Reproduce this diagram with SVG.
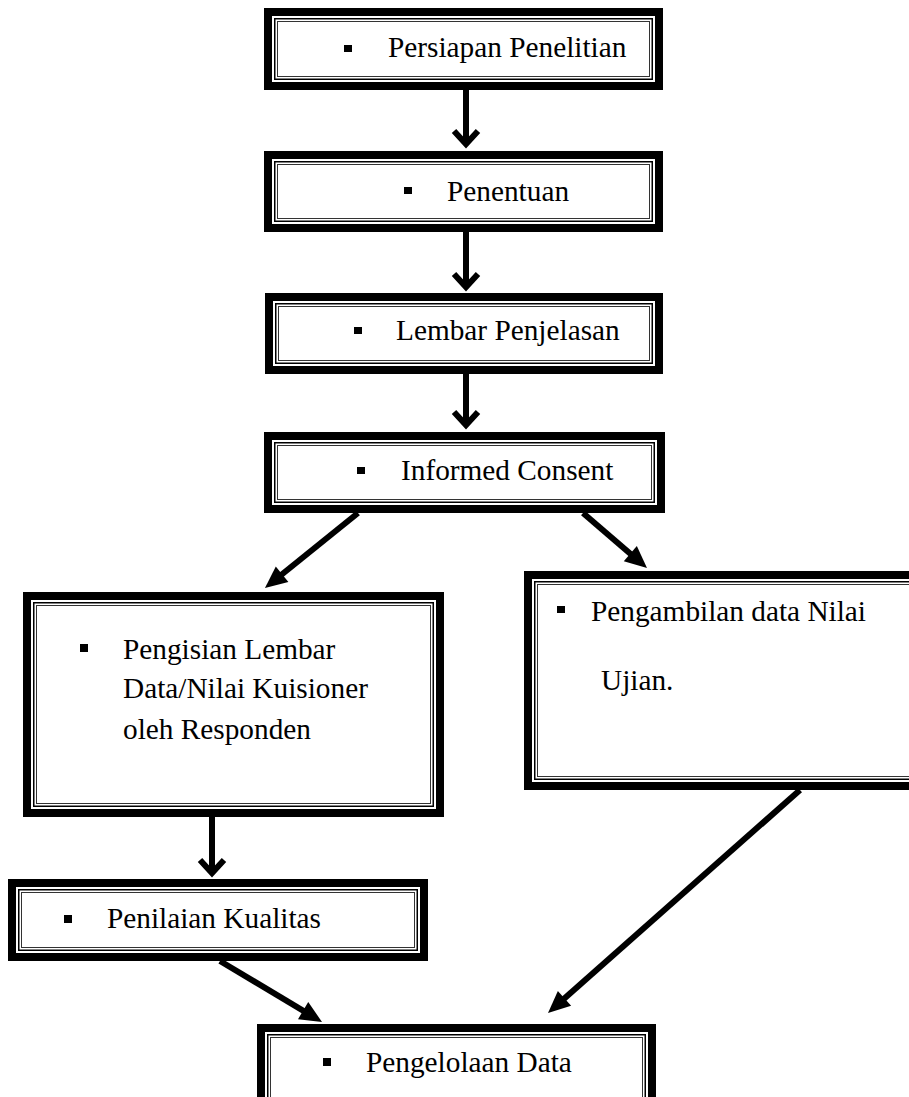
<svg xmlns="http://www.w3.org/2000/svg" width="909" height="1097" viewBox="0 0 909 1097">
  <style>
    .thick { fill: #fff; stroke: #000; stroke-width: 8; }
    .thin1 { fill: none; stroke: #000; stroke-width: 1.5; }
    .thin2 { fill: none; stroke: #333; stroke-width: 1; }
    .lbl { font-family: "Liberation Serif", "Times New Roman", serif; font-size: 29.3px; fill: #000; }
    .bul { fill: #000; }
    .conn { stroke: #000; stroke-width: 6; fill: none; }
  </style>
  <defs>
    <marker id="chev" markerUnits="userSpaceOnUse" viewBox="-20 -16 26 32" refX="0" refY="0" markerWidth="26" markerHeight="32" orient="auto" overflow="visible">
      <path d="M-13,-12 L0,0 L-13,12" fill="none" stroke="#000" stroke-width="6" stroke-linejoin="miter" stroke-miterlimit="10"/>
    </marker>
    <marker id="tri" markerUnits="userSpaceOnUse" viewBox="0 -12 24 24" refX="10" refY="0" markerWidth="24" markerHeight="24" orient="auto" overflow="visible">
      <path d="M0,-10 L22,0 L0,10 Z" fill="#000"/>
    </marker>
  </defs>

  <!-- connectors -->
  <g id="connectors">
    <line class="conn" x1="466" y1="88" x2="466" y2="144" marker-end="url(#chev)"/>
    <line class="conn" x1="466" y1="232" x2="466" y2="287" marker-end="url(#chev)"/>
    <line class="conn" x1="466" y1="374" x2="466" y2="425" marker-end="url(#chev)"/>
    <line class="conn" x1="358" y1="513" x2="274.3" y2="580.5" marker-end="url(#tri)"/>
    <line class="conn" x1="583" y1="513" x2="637.9" y2="560.2" marker-end="url(#tri)"/>
    <line class="conn" x1="212" y1="817" x2="212" y2="873" marker-end="url(#chev)"/>
    <line class="conn" x1="220" y1="961" x2="311.7" y2="1015.8" marker-end="url(#tri)"/>
    <line class="conn" x1="800" y1="790" x2="557" y2="1005" marker-end="url(#tri)"/>
  </g>

  <!-- Persiapan Penelitian -->
  <g id="persiapan">
    <rect class="thick" x="268" y="12" width="391" height="74"/>
    <rect class="thin1" x="274.75" y="18.75" width="377.5" height="60.5"/>
    <rect class="thin2" x="277.5" y="21.5" width="372" height="55"/>
    <rect class="bul" x="344" y="45" width="8" height="7"/>
    <text class="lbl" x="388" y="57">Persiapan Penelitian</text>
  </g>

  <!-- Penentuan -->
  <g id="penentuan">
    <rect class="thick" x="268" y="155" width="391" height="73"/>
    <rect class="thin1" x="274.75" y="161.75" width="377.5" height="59.5"/>
    <rect class="thin2" x="277.5" y="164.5" width="372" height="54"/>
    <rect class="bul" x="404" y="187" width="8" height="7"/>
    <text class="lbl" x="447" y="200.5">Penentuan</text>
  </g>

  <!-- Lembar Penjelasan -->
  <g id="lembar">
    <rect class="thick" x="269" y="297" width="390" height="73"/>
    <rect class="thin1" x="275.75" y="303.75" width="376.5" height="59.5"/>
    <rect class="thin2" x="278.5" y="306.5" width="371" height="54"/>
    <rect class="bul" x="354" y="327" width="8" height="7"/>
    <text class="lbl" x="396" y="340">Lembar Penjelasan</text>
  </g>

  <!-- Informed Consent -->
  <g id="informed">
    <rect class="thick" x="268" y="436" width="393" height="73"/>
    <rect class="thin1" x="274.75" y="442.75" width="379.5" height="59.5"/>
    <rect class="thin2" x="277.5" y="445.5" width="374" height="54"/>
    <rect class="bul" x="357" y="467" width="8" height="7"/>
    <text class="lbl" x="401" y="480">Informed Consent</text>
  </g>

  <!-- Pengisian Lembar Data/Nilai Kuisioner -->
  <g id="pengisian">
    <rect class="thick" x="27" y="596" width="413" height="217"/>
    <rect class="thin1" x="33.75" y="602.75" width="399.5" height="203.5"/>
    <rect class="thin2" x="36.5" y="605.5" width="394" height="198"/>
    <rect class="bul" x="80" y="644" width="8" height="8"/>
    <text class="lbl" x="123" y="659">Pengisian Lembar</text>
    <text class="lbl" x="123" y="698">Data/Nilai Kuisioner</text>
    <text class="lbl" x="123" y="739">oleh Responden</text>
  </g>

  <!-- Pengambilan data Nilai Ujian -->
  <g id="pengambilan">
    <rect class="thick" x="528" y="575" width="395" height="211"/>
    <rect class="thin1" x="534.75" y="581.75" width="381.5" height="197.5"/>
    <rect class="thin2" x="537.5" y="584.5" width="376" height="192"/>
    <rect class="bul" x="557" y="606" width="8" height="7"/>
    <text class="lbl" x="591" y="621">Pengambilan data Nilai</text>
    <text class="lbl" x="601" y="690">Ujian.</text>
  </g>

  <!-- Penilaian Kualitas -->
  <g id="penilaian">
    <rect class="thick" x="12" y="883" width="412" height="74"/>
    <rect class="thin1" x="18.75" y="889.75" width="398.5" height="60.5"/>
    <rect class="thin2" x="21.5" y="892.5" width="393" height="55"/>
    <rect class="bul" x="64" y="915" width="8" height="8"/>
    <text class="lbl" x="107" y="928">Penilaian Kualitas</text>
  </g>

  <!-- Pengelolaan Data -->
  <g id="pengelolaan">
    <rect class="thick" x="261" y="1028" width="391" height="80"/>
    <rect class="thin1" x="267.75" y="1034.75" width="377.5" height="66.5"/>
    <rect class="thin2" x="270.5" y="1037.5" width="372" height="61"/>
    <rect class="bul" x="323" y="1058" width="8" height="8"/>
    <text class="lbl" x="366" y="1072">Pengelolaan Data</text>
  </g>
</svg>
